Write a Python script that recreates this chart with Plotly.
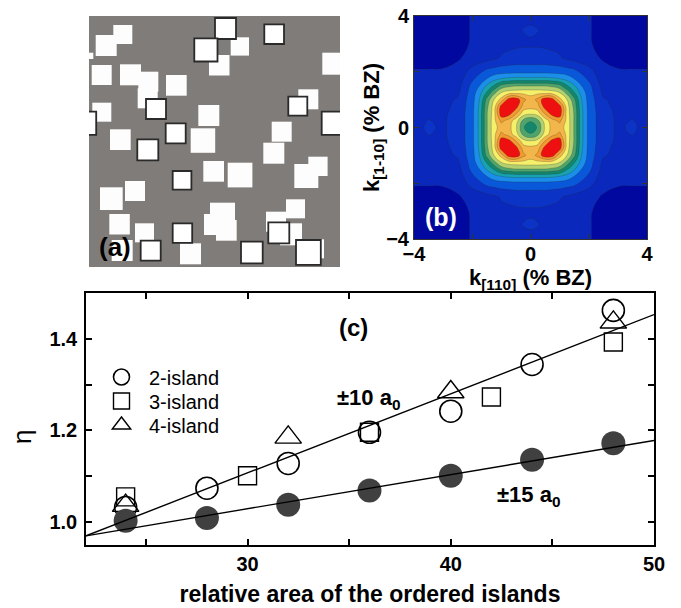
import plotly.graph_objects as go

# ---------------- panel (c) data ----------------
area_2 = [24, 28, 32, 36, 40, 44, 48]
eta_2 = [1.032, 1.074, 1.128, 1.196, 1.242, 1.344, 1.462]
area_3 = [24, 30, 36, 42, 48]
eta_3 = [1.055, 1.101, 1.196, 1.273, 1.393]
area_4 = [24, 32, 40, 48]
eta_4 = [1.036, 1.185, 1.284, 1.436]
area_15 = [24, 28, 32, 36, 40, 44, 48]
eta_15 = [1.003, 1.009, 1.038, 1.069, 1.101, 1.136, 1.172]
fit_x = [22.05, 50]
fit_10 = [0.970, 1.453]
fit_15 = [0.970, 1.178]

# ---------------- panel (b) data (one quadrant) ----------------
kq = [0, 0.25, 0.5, 0.75, 1.0, 1.25, 1.5, 1.75, 2.0, 2.5, 3.0, 3.5, 4.0]
zq = [
    [6.0, 6.6, 8.7, 9.9, 9.9, 9.2, 7.4, 4.8, 3.2, 1.8, 1.4, 1.6, 1.3],
    [6.6, 7.3, 9.0, 10.1, 10.8, 9.2, 7.4, 4.8, 3.2, 1.8, 1.4, 1.52, 1.3],
    [8.7, 9.0, 10.6, 12.0, 12.2, 9.1, 7.4, 4.8, 3.2, 1.8, 1.35, 1.4, 1.25],
    [9.9, 10.1, 12.0, 12.2, 12.0, 9.0, 7.2, 4.7, 3.15, 1.7, 1.3, 1.35, 1.2],
    [9.9, 10.8, 12.2, 12.0, 9.9, 8.5, 6.8, 4.5, 3.1, 1.6, 1.2, 1.15, 1.1],
    [9.2, 9.2, 9.1, 9.0, 8.5, 7.2, 5.6, 4.1, 3.0, 1.3, 1.0, 1.0, 1.0],
    [7.4, 7.4, 7.4, 7.2, 6.8, 5.6, 4.6, 3.5, 2.8, 1.1, 0.85, 0.85, 0.85],
    [4.8, 4.8, 4.8, 4.7, 4.5, 4.1, 3.5, 2.95, 2.3, 0.95, 0.7, 0.7, 0.7],
    [3.2, 3.2, 3.2, 3.15, 3.1, 3.0, 2.8, 2.3, 1.9, 0.8, 0.55, 0.55, 0.55],
    [1.8, 1.8, 1.8, 1.7, 1.6, 1.3, 1.1, 0.95, 0.8, 0.4, 0.35, 0.3, 0.3],
    [1.4, 1.4, 1.35, 1.3, 1.2, 1.0, 0.85, 0.7, 0.55, 0.35, 0.3, 0.3, 0.3],
    [1.6, 1.52, 1.4, 1.35, 1.15, 1.0, 0.85, 0.7, 0.55, 0.3, 0.3, 0.3, 0.3],
    [1.3, 1.3, 1.25, 1.2, 1.1, 1.0, 0.85, 0.7, 0.55, 0.3, 0.3, 0.3, 0.3],
]
band_colors = ['#0008a0', '#0a28bc', '#0b34c6', '#0a58da', '#1a8ee8', '#18a2b0',
               '#13876c', '#4ea46c', '#b2d070', '#f6ef6a', '#f2b64a', '#f09a30', '#ee1010']

# ---------------- panel (a) data (island squares, image px) ----------------
white_x = [24.3, 6.7, -2, 2.7, 31, 49.3, 48.7, 77, 3.3, 109.3, 21, 101.7, 114.3, 138.7,
           182.7, 174.3, 209.3, 205.3, 219.3, 233.3, 120, 141.7, 36, 11, 20.3, 46,
           121, 115, 127, 197, 177, 191, 91, 22.7, 216]
white_y = [9, 19, 36.7, 49, 48.3, 55.7, 72.3, 59, 86.7, 89, 113.3, 112.3, 145, 146.7,
           105.7, 126.7, 73.3, 148, 140.7, 36.7, 39, 21.3, 165, 171.3, 198, 207.3,
           186.7, 198, 204, 183.3, 195.7, 207.3, 227.3, 224, 223.3]
white_s = [19, 21, 6.3, 20, 21, 20, 20, 20.7, 19, 21, 20.7, 24.5, 20.7, 24.7,
           20, 21, 20, 24, 19.3, 22, 20.5, 18.3, 20, 22.7, 20.5, 19,
           25, 21, 20.7, 19, 20, 22, 21, 21, 19]
frame_x = [126, 105.3, 175.3, 57, 199.3, 232.7, 76.7, 48.3, 83.7, 83.7, 51.7, 152,
           179.3, 207, -16]
frame_y = [2, 22.3, 8.3, 83, 80.7, 95.7, 107.3, 123.3, 155, 207.3, 224.7, 225.7,
           206.3, 224, 95.7]
frame_s = [21, 23.2, 19.7, 20, 19, 23.2, 20, 21, 18.7, 19.5, 20, 21.7, 21, 24.8, 23.2]

FONT = 'Arial, Liberation Sans, sans-serif'

# mirror quadrant into full grid
kfull = [-v for v in kq[:0:-1]] + kq
rows = []
for row in zq:
    rows.append(row[:0:-1] + row)
zfull = rows[:0:-1] + rows

ncol = len(band_colors) - 1
cscale = [[i / ncol, c] for i, c in enumerate(band_colors)]

fig = go.Figure()

fig.add_trace(go.Contour(
    x=kfull, y=kfull, z=zfull, xaxis='x3', yaxis='y3',
    colorscale=cscale, zmin=0, zmax=ncol, showscale=False,
    contours=dict(start=0.5, end=ncol - 0.5, size=1, coloring='fill'),
    line=dict(color='rgba(40,40,40,0.4)', width=0.6, smoothing=1.3),
    hoverinfo='skip', showlegend=False))

fig.add_trace(go.Scatter(x=area_2, y=eta_2, mode='markers', name='2-island', legend='legend',
                         marker=dict(symbol='circle-open', size=22, color='black',
                                     line=dict(width=1.6, color='black'))))
fig.add_trace(go.Scatter(x=area_3, y=eta_3, mode='markers', name='3-island', legend='legend2',
                         marker=dict(symbol='square-open', size=18, color='black',
                                     line=dict(width=1.4, color='black'))))
fig.add_trace(go.Scatter(x=area_4, y=eta_4, mode='markers', name='4-island', legend='legend3',
                         marker=dict(symbol='triangle-up-open', size=23, color='black',
                                     line=dict(width=1.4, color='black'))))
fig.add_trace(go.Scatter(x=area_15, y=eta_15, mode='markers', showlegend=False,
                         marker=dict(symbol='circle', size=24, color='#404040')))
fig.add_trace(go.Scatter(x=fit_x, y=fit_10, mode='lines', showlegend=False,
                         line=dict(color='black', width=1.4)))
fig.add_trace(go.Scatter(x=fit_x, y=fit_15, mode='lines', showlegend=False,
                         line=dict(color='black', width=1.4)))

shapes = [dict(type='rect', xref='x2', yref='y2', x0=0, x1=251, y0=0, y1=251,
               fillcolor='#807c79', line=dict(width=0), layer='below')]
for x0, y0, s in zip(white_x, white_y, white_s):
    shapes.append(dict(type='rect', xref='x2', yref='y2', x0=x0, x1=x0 + s, y0=y0, y1=y0 + s,
                       fillcolor='#fdfdfd', line=dict(width=0), layer='above'))
for x0, y0, s in zip(frame_x, frame_y, frame_s):
    shapes.append(dict(type='rect', xref='x2', yref='y2', x0=x0, x1=x0 + s, y0=y0, y1=y0 + s,
                       fillcolor='#ffffff', line=dict(width=1.8, color='#2a2a2a'), layer='above'))

# the page's body margin is removed (post_script below), so screen px == figure px
W, H = 681, 608
def px_x(a, b):
    return [a / W, b / W]
def px_y(top, bottom):
    return [(H - bottom) / H, (H - top) / H]
def sx(x):
    return x / W
def sy(y):
    return 1 - y / H

bold20 = dict(family=FONT, size=20, color='black', weight='bold')

def leg(ycenter):
    return dict(x=sx(94), y=sy(ycenter), xanchor='left', yanchor='middle',
                bgcolor='rgba(0,0,0,0)', font=dict(family=FONT, size=20, color='black'),
                itemwidth=45, borderwidth=0)

fig.update_layout(
    width=W, height=H, margin=dict(l=0, r=0, t=0, b=0, autoexpand=False),
    paper_bgcolor='white', plot_bgcolor='white',
    font=dict(family=FONT, color='black'),
    shapes=shapes,
    showlegend=True,
    legend=leg(377), legend2=leg(401), legend3=leg(425),
    xaxis=dict(domain=px_x(86, 654), anchor='y', range=[22.05, 50], automargin=False,
               tick0=0, dtick=10, ticks='inside', ticklen=6, tickwidth=1.5, tickcolor='black',
               minor=dict(dtick=5, ticks='inside', ticklen=6, tickwidth=1.5, tickcolor='black'),
               showline=True, linecolor='black', linewidth=1.5, mirror='ticks',
               showgrid=False, zeroline=False, tickfont=bold20, ticklabeloverflow='allow',
               title=dict(text='relative area of the ordered islands',
                          font=dict(family=FONT, size=23, color='black', weight='bold'),
                          standoff=12)),
    yaxis=dict(domain=px_y(293, 545), anchor='x', range=[0.95, 1.5], automargin=False,
               tick0=1.0, dtick=0.2, tickformat='.1f', ticks='inside', ticklen=6, tickwidth=1.5,
               tickcolor='black',
               minor=dict(dtick=0.1, ticks='inside', ticklen=6, tickwidth=1.5, tickcolor='black'),
               showline=True, linecolor='black', linewidth=1.5, mirror='ticks',
               showgrid=False, zeroline=False, tickfont=bold20, ticklabelstandoff=3,
               ticklabeloverflow='allow'),
    xaxis2=dict(domain=px_x(89, 340), anchor='y2', range=[0, 251], visible=False,
                showgrid=False, zeroline=False, automargin=False),
    yaxis2=dict(domain=px_y(16, 267), anchor='x2', range=[251, 0], visible=False,
                showgrid=False, zeroline=False, automargin=False),
    xaxis3=dict(domain=px_x(414, 647), anchor='y3', range=[-4, 4], automargin=False,
                tick0=0, dtick=4, minor=dict(dtick=2, ticks='inside', ticklen=5, tickcolor='#333'),
                ticks='inside', ticklen=5, tickcolor='#333', showline=True, linecolor='#333',
                linewidth=1, mirror='ticks', showgrid=False, zeroline=False, tickfont=bold20,
                ticklabelstandoff=-3, ticklabeloverflow='allow',
                title=dict(text='k<sub>[110]</sub> (% BZ)',
                           font=dict(family=FONT, size=22, color='black', weight='bold'),
                           standoff=0)),
    yaxis3=dict(domain=px_y(16, 239), anchor='x3', range=[-4, 4], automargin=False,
                tick0=0, dtick=4, minor=dict(dtick=2, ticks='inside', ticklen=5, tickcolor='#333'),
                ticks='inside', ticklen=5, tickcolor='#333', showline=True, linecolor='#333',
                linewidth=1, mirror='ticks', showgrid=False, zeroline=False, tickfont=bold20,
                ticklabeloverflow='allow',
                title=dict(text='k<sub>[1-10]</sub> (% BZ)',
                           font=dict(family=FONT, size=22, color='black', weight='bold'),
                           standoff=0)),
)

ann = [
    dict(text='<b>(a)</b>', xref='x2', yref='y2', x=8, y=231, xanchor='left', yanchor='middle',
         showarrow=False, font=dict(family=FONT, size=26, color='black')),
    dict(text='<b>(b)</b>', xref='x3', yref='y3', x=-3.7, y=-3.2, xanchor='left', yanchor='middle',
         showarrow=False, font=dict(family=FONT, size=25, color='white')),
    dict(text='<b>(c)</b>', xref='x', yref='y', x=35.2, y=1.425, xanchor='center', yanchor='middle',
         showarrow=False, font=dict(family=FONT, size=24, color='black')),
    dict(text='<b>±10 a<sub>0</sub></b>', xref='x', yref='y', x=34.3, y=1.268, xanchor='left',
         yanchor='middle', showarrow=False, font=dict(family=FONT, size=22, color='black')),
    dict(text='<b>±15 a<sub>0</sub></b>', xref='x', yref='y', x=42.2, y=1.058, xanchor='left',
         yanchor='middle', showarrow=False, font=dict(family=FONT, size=22, color='black')),
    dict(text='η', xref='paper', yref='paper', x=sx(22), y=sy(437), xanchor='center',
         yanchor='middle', textangle=-90, showarrow=False,
         font=dict(family=FONT, size=26, color='black')),
]
fig.update_layout(annotations=ann)

fig.write_html('out.html', config={'displayModeBar': False},
               post_script="document.body.style.margin='0px';")
